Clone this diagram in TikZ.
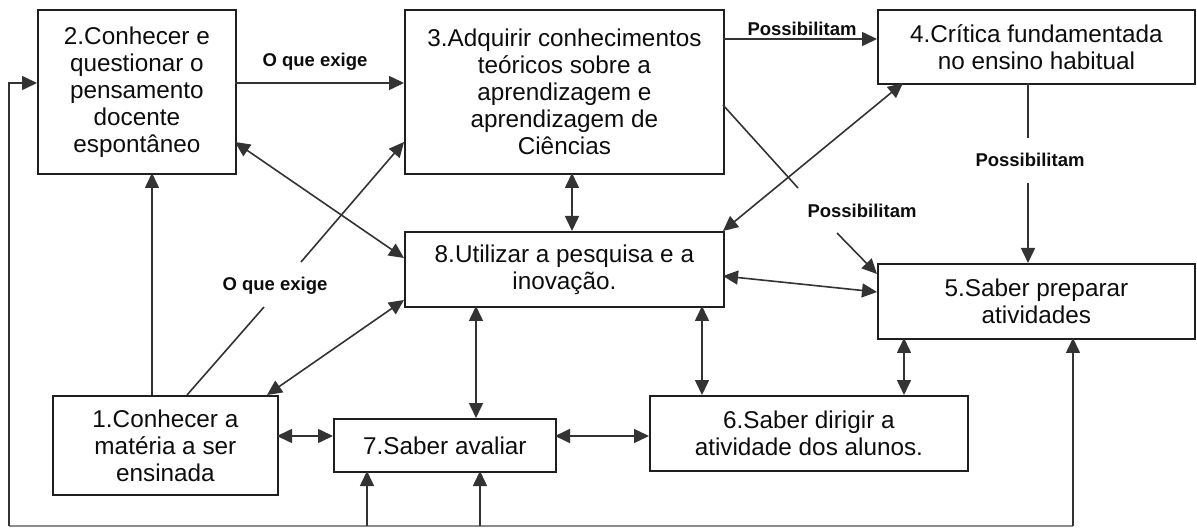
\documentclass[tikz,border=0pt]{standalone}
\usepackage{fontspec}
\setmainfont{Liberation Sans}
\usetikzlibrary{arrows.meta,calc}
\begin{document}
\begin{tikzpicture}[x=1pt,y=-1pt,
  box/.style={draw=black!88, line width=1.8pt, inner sep=0pt, align=center,
    font=\fontsize{24.3}{27}\selectfont, anchor=north west, text=black!95},
  lbl/.style={font=\fontsize{18.5}{20}\bfseries\selectfont, inner sep=0pt, anchor=base, text=black!95},
  conn/.style={draw=black!80, line width=1.6pt},
  tip/.tip={Triangle[length=15pt,width=14pt]},
  arr/.style={conn, -tip},
  darr/.style={conn, tip-tip},
  fb/.style={draw=black!45, line width=1.4pt},
]
\useasboundingbox (0,0) rectangle (1197,529);

% boxes
\node[box, minimum width=198pt, minimum height=164pt] (b2) at (37,9)
  {2.Conhecer e\\questionar o\\pensamento\\docente\\espontâneo};
\node[box, minimum width=319pt, minimum height=164pt] (b3) at (404,9)
  {3.Adquirir conhecimentos\\teóricos sobre a\\aprendizagem e\\aprendizagem de\\Ciências};
\node[box, minimum width=317pt, minimum height=74pt] (b4) at (877,9)
  {4.Crítica fundamentada\\no ensino habitual};
\node[box, minimum width=319pt, minimum height=75pt] (b8) at (404,231)
  {8.Utilizar a pesquisa e a\\inovação.};
\node[box, minimum width=317pt, minimum height=75pt] (b5) at (877,263)
  {5.Saber preparar\\atividades};
\node[box, minimum width=225pt, minimum height=99pt] (b1) at (52,395)
  {1.Conhecer a\\matéria a ser\\ensinada};
\node[box, minimum width=222pt, minimum height=53pt] (b7) at (333,418)
  {7.Saber avaliar};
\node[box, minimum width=318pt, minimum height=75pt] (b6) at (649,395)
  {6.Saber dirigir a\\atividade dos alunos.};

% labels
\node[lbl] (l1) at (315,67) {O que exige};
\node[lbl] (l2) at (802,36) {Possibilitam};
\node[lbl] (l3) at (1030,167) {Possibilitam};
\node[lbl] (l4) at (862,218) {Possibilitam};
\node[lbl] (l7) at (275,291) {O que exige};

% feedback coordinates
\coordinate (fbl) at (9,526);
\coordinate (fbr) at (1073,526);

% connectors
\draw[arr] ($(b2.north west)+(198,74)$) -- ($(b3.north west)+(0,74)$);
\draw[arr] ($(b3.north west)+(319,30)$) -- ($(b4.north west)+(0,30)$);
\draw[conn] ($(b4.north west)+(151,74)$) -- ($(l3.base)+(-2,-29)$);
\draw[arr] ($(l3.base)+(-2,16)$) -- ($(b5.north west)+(151,0)$);
\draw[conn] ($(b3.north west)+(319,96)$) -- ($(l4.base)+(-64,-30)$);
\draw[arr] ($(l4.base)+(-25,15)$) -- ($(b5.north west)+(0,11)$);
\draw[darr] ($(b4.north west)+(26,74)$) -- ($(b8.north west)+(319,0)$);
\draw[darr] ($(b2.north west)+(198,133)$) -- ($(b8.north west)+(0,27)$);
\draw[conn] ($(b1.north west)+(135,0)$) -- ($(l7.base)+(-11,16)$);
\draw[arr] ($(l7.base)+(26,-29)$) -- ($(b3.north west)+(0,133)$);
\draw[arr] ($(b1.north west)+(100,0)$) -- ($(b2.north west)+(115,164)$);
\draw[darr] ($(b1.north west)+(215,0)$) -- ($(b8.north west)+(0,69)$);
\draw[darr] ($(b1.north west)+(225,41)$) -- ($(b7.north west)+(0,18)$);
\draw[darr] ($(b7.north west)+(222,18)$) -- ($(b6.north west)+(0,41)$);
\draw[darr] ($(b8.north west)+(72,75)$) -- ($(b7.north west)+(143,0)$);
\draw[darr] ($(b8.north west)+(298,75)$) -- ($(b6.north west)+(53,0)$);
\draw[darr] ($(b5.north west)+(27,75)$) -- ($(b6.north west)+(255,0)$);
\draw[darr] ($(b3.north west)+(168,164)$) -- ($(b8.north west)+(168,0)$);
\draw[darr] ($(b8.north west)+(319,45)$) -- ($(b5.north west)+(0,29)$);

% feedback loop
\draw[fb] (fbr) -- (fbl);
\draw[arr] (fbl) |- ($(b2.north west)+(0,74)$);
\draw[arr] ($(fbl)+(358,0)$) -- ($(b7.north west)+(34,53)$);
\draw[arr] ($(fbl)+(471,0)$) -- ($(b7.north west)+(147,53)$);
\draw[arr] (fbr) -- ($(b5.north west)+(196,75)$);
\end{tikzpicture}
\end{document}
